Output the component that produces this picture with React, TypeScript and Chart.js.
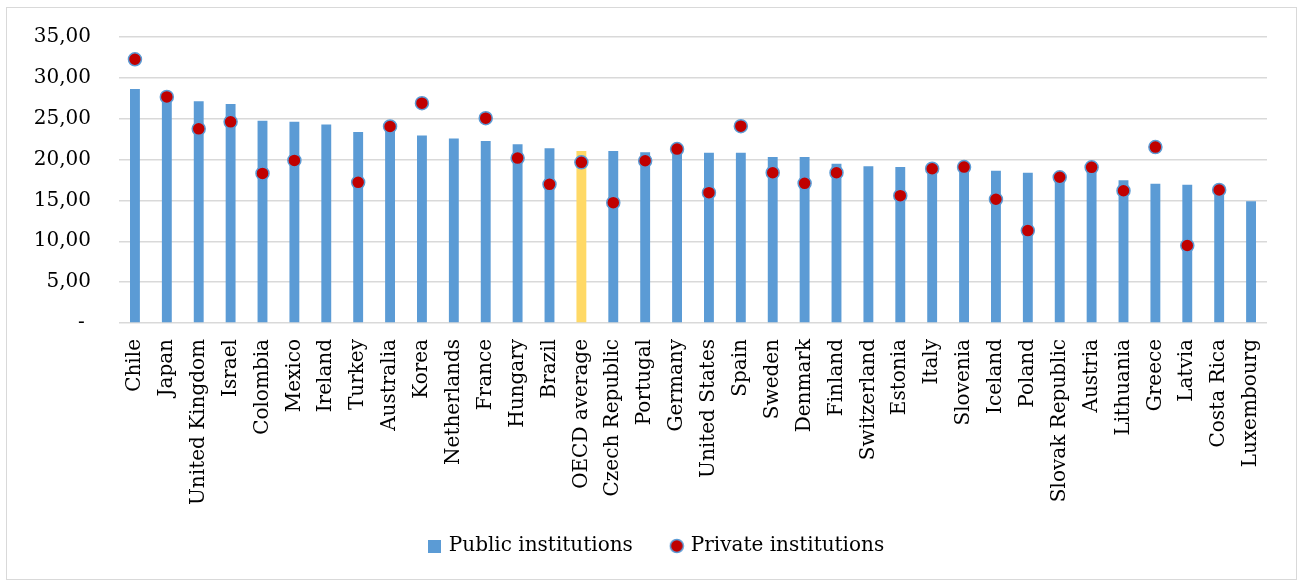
import React, { useEffect, useRef } from "react";
import { Chart, registerables } from "chart.js";

Chart.register(...registerables);

const categories = [
  "Chile", "Japan", "United Kingdom", "Israel", "Colombia", "Mexico", "Ireland", "Turkey",
  "Australia", "Korea", "Netherlands", "France", "Hungary", "Brazil", "OECD average",
  "Czech Republic", "Portugal", "Germany", "United States", "Spain", "Sweden", "Denmark",
  "Finland", "Switzerland", "Estonia", "Italy", "Slovenia", "Iceland", "Poland",
  "Slovak Republic", "Austria", "Lithuania", "Greece", "Latvia", "Costa Rica", "Luxembourg",
];

const publicValues = [
  28.64, 27.9, 27.14, 26.8, 24.74, 24.62, 24.3, 23.36, 24.1, 22.95, 22.59, 22.26, 21.89, 21.4,
  21.04, 21.04, 20.9, 21.2, 20.83, 20.83, 20.3, 20.3, 19.49, 19.17, 19.08, 19.0, 19.1, 18.63,
  18.39, 17.9, 19.0, 17.46, 17.05, 16.92, 16.3, 14.9,
];

const privateValues: (number | null)[] = [
  32.27, 27.67, 23.76, 24.62, 18.31, 19.9, null, 17.21, 24.05, 26.9, null, 25.07, 20.18, 16.97,
  19.66, 14.73, 19.85, 21.28, 15.95, 24.09, 18.39, 17.09, 18.39, null, 15.58, 18.88, 19.08,
  15.14, 11.31, 17.83, 19.05, 16.19, 21.53, 9.48, 16.28, null,
];

const seriesNames = ["Public institutions", "Private institutions"];
const yTicks = [0, 5, 10, 15, 20, 25, 30, 35];

const BLUE = "#5b9bd5";
const YELLOW = "#ffd966";
const RED = "#c00000";
const FONT = "'DejaVu Serif', serif";
const FONT_SIZE = 20;

const legendShift = {
  id: "legendShift",
  afterLayout(chart: any) {
    const lg = chart.legend;
    if (!lg) return;
    lg.top -= 30;
    lg.height += 30;
    lg.left += 24;
    lg.right += 24;
  },
};

export default function App() {
  const ref = useRef<HTMLCanvasElement | null>(null);

  useEffect(() => {
    document.body.style.margin = "0";
    const canvas = ref.current;
    if (!canvas) return;

    const legendDot = document.createElement("canvas");
    legendDot.width = 16;
    legendDot.height = 16;
    const lctx = legendDot.getContext("2d");
    if (lctx) {
      lctx.beginPath();
      lctx.arc(8, 8, 6.5, 0, Math.PI * 2);
      lctx.fillStyle = RED;
      lctx.fill();
      lctx.lineWidth = 1.5;
      lctx.strokeStyle = BLUE;
      lctx.stroke();
    }
    const legendSquare = document.createElement("canvas");
    legendSquare.width = 13;
    legendSquare.height = 13;
    const sctx = legendSquare.getContext("2d");
    if (sctx) {
      sctx.fillStyle = BLUE;
      sctx.fillRect(0, 0, 13, 13);
    }

    const chart = new Chart(canvas, {
      type: "bar",
      data: {
        labels: categories,
        datasets: [
          {
            type: "line",
            label: seriesNames[1],
            data: privateValues,
            showLine: false,
            pointRadius: 6.5,
            pointHoverRadius: 6.5,
            pointBackgroundColor: RED,
            pointBorderColor: BLUE,
            pointBorderWidth: 1.5,
            backgroundColor: RED,
            borderColor: BLUE,
            pointStyle: "circle",
            order: 0,
          } as any,
          {
            type: "bar",
            label: seriesNames[0],
            data: publicValues,
            backgroundColor: categories.map((c) => (c === "OECD average" ? YELLOW : BLUE)),
            borderWidth: 0,
            barPercentage: 0.31,
            categoryPercentage: 1,
            order: 1,
          } as any,
        ],
      },
      plugins: [legendShift],
      options: {
        animation: false,
        responsive: false,
        devicePixelRatio: 1,
        layout: { padding: { left: 0, right: 30, top: 20, bottom: 14 } },
        plugins: {
          tooltip: { enabled: false },
          legend: {
            position: "bottom",
            reverse: true,
            maxHeight: 40,
            labels: {
              usePointStyle: true,
              boxWidth: 8,
              boxHeight: 8,
              padding: 40,
              color: "#000",
              font: { family: FONT, size: FONT_SIZE },
              generateLabels: (ch: any) => {
                return ch.data.datasets.map((ds: any, i: number) => ({
                  text: ds.label,
                  pointStyle: ds.type === "bar" ? legendSquare : legendDot,
                  fillStyle: ds.type === "bar" ? BLUE : RED,
                  strokeStyle: BLUE,
                  lineWidth: 0,
                  hidden: false,
                  datasetIndex: i,
                  fontColor: "#000",
                }));
              },
            },
          } as any,
        },
        scales: {
          x: {
            grid: { display: false, drawTicks: false },
            border: { display: false },
            ticks: {
              autoSkip: false,
              maxRotation: 90,
              minRotation: 90,
              padding: 16,
              color: "#000",
              font: { family: FONT, size: FONT_SIZE },
            },
            afterFit: (s: any) => {
              s.height = 203;
            },
          },
          y: {
            min: 0,
            max: 35,
            afterBuildTicks: (s: any) => {
              s.ticks = yTicks.map((v) => ({ value: v }));
            },
            grid: { color: "#d9d9d9", lineWidth: 1.5, drawTicks: false },
            border: { display: false },
            ticks: {
              padding: 28,
              color: "#000",
              font: { family: FONT, size: FONT_SIZE, lineHeight: 0.9 },
              callback: (v: any) => (Number(v) === 0 ? "- " : Number(v).toFixed(2).replace(".", ",")),
            },
            afterFit: (s: any) => {
              s.width = 119;
            },
          },
        },
      },
    });
    return () => chart.destroy();
  }, []);

  return (
    <div style={{ position: "relative", width: 1297, height: 580 }}>
      <div
        style={{
          position: "absolute",
          left: 6,
          top: 7,
          width: 1291,
          height: 573,
          boxSizing: "border-box",
          border: "1px solid #d9d9d9",
        }}
      />
      <canvas ref={ref} width={1297} height={580} style={{ position: "absolute", left: 0, top: 0 }} />
    </div>
  );
}
